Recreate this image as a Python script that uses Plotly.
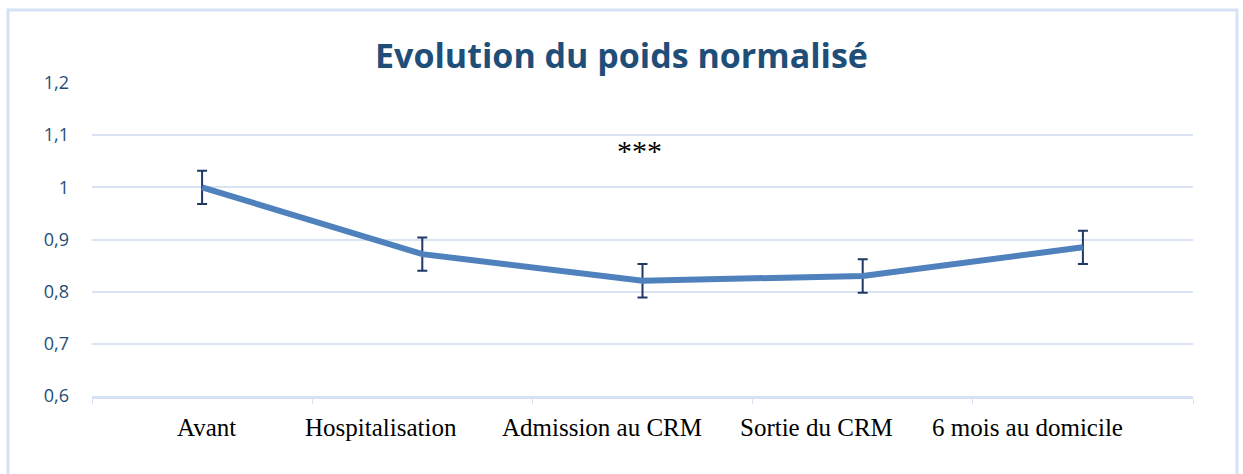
import plotly.graph_objects as go

categories = ["Avant", "Hospitalisation", "Admission au CRM", "Sortie du CRM", "6 mois au domicile"]
values = [1.0, 0.872, 0.821, 0.830, 0.885]
errors = [0.032, 0.032, 0.032, 0.032, 0.032]
y_ticks = [0.6, 0.7, 0.8, 0.9, 1.0, 1.1, 1.2]
y_tick_labels = ["0,6", "0,7", "0,8", "0,9", "1", "1,1", "1,2"]
title_text = "Evolution du poids normalisé"
signif_label = "***"
label_shift_px = [4, -41, -41, -46, -55]

fig = go.Figure()
fig.add_trace(go.Scatter(
    x=categories, y=values, mode="lines",
    line=dict(color="#4f81bd", width=6),
    error_y=dict(type="data", array=errors, visible=True,
                 color="#1f3864", thickness=2, width=5),
    showlegend=False,
))

fig.add_annotation(x=categories[2], y=1.071, text=signif_label, showarrow=False,
                   xshift=-3, font=dict(family="Liberation Serif", size=30, color="black"))

# category labels (drawn as text under the axis)
for cat, dx in zip(categories, label_shift_px):
    fig.add_annotation(x=cat, xref="x", y=0, yref="paper", yshift=-31,
                       yanchor="middle", xshift=dx, text=cat, showarrow=False,
                       font=dict(family="Liberation Serif", size=25, color="black"))

# outer chart border
fig.add_shape(type="rect", xref="paper", yref="paper",
              x0=(8 - 92) / 1101, x1=(1237 - 92) / 1101,
              y0=-0.5, y1=(396 - 10) / 313,
              line=dict(color="#d6e2f3", width=3), fillcolor="rgba(0,0,0,0)", layer="below")

fig.update_layout(
    width=1243, height=474,
    margin=dict(l=92, r=50, t=83, b=78),
    paper_bgcolor="white", plot_bgcolor="white",
    title=dict(text="<b>" + title_text + "</b>", x=0.5, xanchor="center",
               y=1 - 56 / 474, yanchor="middle",
               font=dict(family="Open Sans", size=34, color="#1f4e79")),
    xaxis=dict(
        type="category", showgrid=False, showticklabels=False,
        showline=True, linecolor="#d6e2f3", linewidth=3,
        ticks="outside", tickson="boundaries", ticklen=5, tickcolor="#d6e2f3", tickwidth=1,
        range=[-0.5, 4.5], zeroline=False,
    ),
    yaxis=dict(
        range=[0.6, 1.2], tickvals=y_ticks, ticktext=y_tick_labels,
        showgrid=True, gridcolor="#d9e3f3", gridwidth=2,
        zeroline=False, showline=False,
        tickfont=dict(family="Open Sans", size=18, color="#1f4e79"),
        ticks="", ticklabelstandoff=22,
    ),
)

fig.write_html("out.html", config={"displayModeBar": False},
               post_script="document.body.style.margin='0';")
